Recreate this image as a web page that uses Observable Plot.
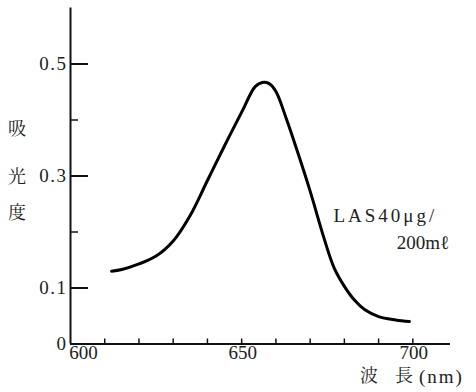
<!DOCTYPE html>
<html>
<head>
<meta charset="utf-8">
<script src="https://cdn.jsdelivr.net/npm/d3@7"></script>
<script src="https://cdn.jsdelivr.net/npm/@observablehq/plot@0.6"></script>
<style>
  html, body { margin: 0; padding: 0; background: #fff; }
  svg { display: block; }
</style>
</head>
<body>
<div id="chart"></div>
<script>
// Data
const wavelength = [612, 615, 620, 625, 630, 635, 640, 645, 650, 654, 656, 658, 660, 663, 666, 670, 674, 677, 680, 683, 686, 690, 695, 699];
const absorbance = [0.130, 0.133, 0.143, 0.157, 0.184, 0.230, 0.292, 0.354, 0.414, 0.460, 0.467, 0.465, 0.451, 0.403, 0.349, 0.273, 0.190, 0.136, 0.103, 0.078, 0.061, 0.049, 0.043, 0.040];

const yLabelTicks = [0, 0.1, 0.3, 0.5];
const yMajorTicks = [0.1, 0.3, 0.5];
const yMinorTicks = [0.2, 0.4];
const xTicks = [610, 620, 630, 640, 650, 660, 670, 680, 690, 700];
const xLabelFirst = [600];
const xLabelTicks = [650, 700];
const yTitleChars = ["吸", "光", "度"];
const annotation = ["LAS40μg/", "200mℓ"];
const xTitle = ["波", "長", "(nm)"];

const series = wavelength.map((w, i) => ({w, a: absorbance[i]}));

const W = 476, H = 392;
const mL = 70, mR = 26, mT = 7.5, mB = 48.5;
const frameW = W - mL - mR, frameH = H - mT - mB;
const serif = "'Liberation Serif', 'Times New Roman', serif";
const cjk = "'Noto Serif CJK JP', 'Noto Sans CJK JP', serif";

const chart = Plot.plot({
  width: W,
  height: H,
  marginLeft: mL,
  marginRight: mR,
  marginTop: mT,
  marginBottom: mB,
  x: {domain: [600, 711], axis: null},
  y: {domain: [0, 0.6], axis: null},
  style: {background: "#fff", color: "#111"},
  marks: [
    // axes lines
    Plot.ruleX([600], {stroke: "#111", strokeWidth: 2}),
    Plot.ruleY([0], {stroke: "#111", strokeWidth: 2}),
    // inward ticks
    Plot.tickY(yMajorTicks, {y: d => d, stroke: "#111", strokeWidth: 2, insetRight: frameW - 18}),
    Plot.tickY(yMinorTicks, {y: d => d, stroke: "#111", strokeWidth: 1.5, insetRight: frameW - 8}),
    Plot.tickX(xTicks, {x: d => d, stroke: "#111", strokeWidth: 1.5, insetTop: frameH - 5}),
    // tick labels
    Plot.text(yLabelTicks, {y: d => d, frameAnchor: "left", text: d => d === 0 ? "0" : d.toFixed(1), textAnchor: "end", dx: -3, fontSize: 19, fill: "#222"}),
    Plot.text(xLabelFirst, {x: d => d, frameAnchor: "bottom", text: d => String(d), textAnchor: "middle", dx: 13, dy: 15, fontSize: 19, fill: "#222"}),
    Plot.text(xLabelTicks, {x: d => d, frameAnchor: "bottom", text: d => String(d), textAnchor: "middle", dx: 1, dy: 15, fontSize: 19, fill: "#222"}),
    // curve
    Plot.line(series, {x: "w", y: "a", curve: "catmull-rom", stroke: "#000", strokeWidth: 3, strokeLinejoin: "round", strokeLinecap: "round"}),
    // annotation
    Plot.text([annotation[0]], {x: 676.8, y: 0.228, text: d => d, textAnchor: "start", fontSize: 19, fill: "#222"}),
    Plot.text([annotation[1]], {x: 695.3, y: 0.181, text: d => d, textAnchor: "start", fontSize: 19, fill: "#222"})
  ]
});

const svg = d3.select(chart);
// Y title (vertical CJK characters at left)
const yTitleY = [129, 177, 213];
svg.append("g").selectAll("text").data(yTitleChars).join("text")
  .attr("x", 17).attr("y", (d, i) => yTitleY[i])
  .attr("dy", "0.36em").attr("text-anchor", "middle")
  .attr("font-size", 18).attr("fill", "#222")
  .text(d => d);
// X title at bottom right
const xt = svg.append("g").attr("fill", "#222");
xt.append("text").attr("x", 369).attr("y", 376).attr("dy", "0.36em").attr("text-anchor", "middle").attr("font-size", 18).text(xTitle[0]);
xt.append("text").attr("x", 404).attr("y", 376).attr("dy", "0.36em").attr("text-anchor", "middle").attr("font-size", 18).text(xTitle[1]);
xt.append("text").attr("x", 419).attr("y", 376).attr("dy", "0.36em").attr("text-anchor", "start").attr("font-size", 19).attr("letter-spacing", 2).text(xTitle[2]);

// Fonts: serif for Latin, Mincho-like serif for CJK
svg.selectAll("text").each(function () {
  const isCJK = /[\u3000-\u9fff]/.test(this.textContent);
  this.style.fontFamily = isCJK ? cjk : serif;
});
svg.selectAll("text").filter(function () { return this.textContent === annotation[0]; }).attr("letter-spacing", 3);
svg.selectAll("text").filter(function () { return /^0(\.\d)?$/.test(this.textContent); }).attr("letter-spacing", 1.5);

document.getElementById("chart").appendChild(chart);
</script>
</body>
</html>
